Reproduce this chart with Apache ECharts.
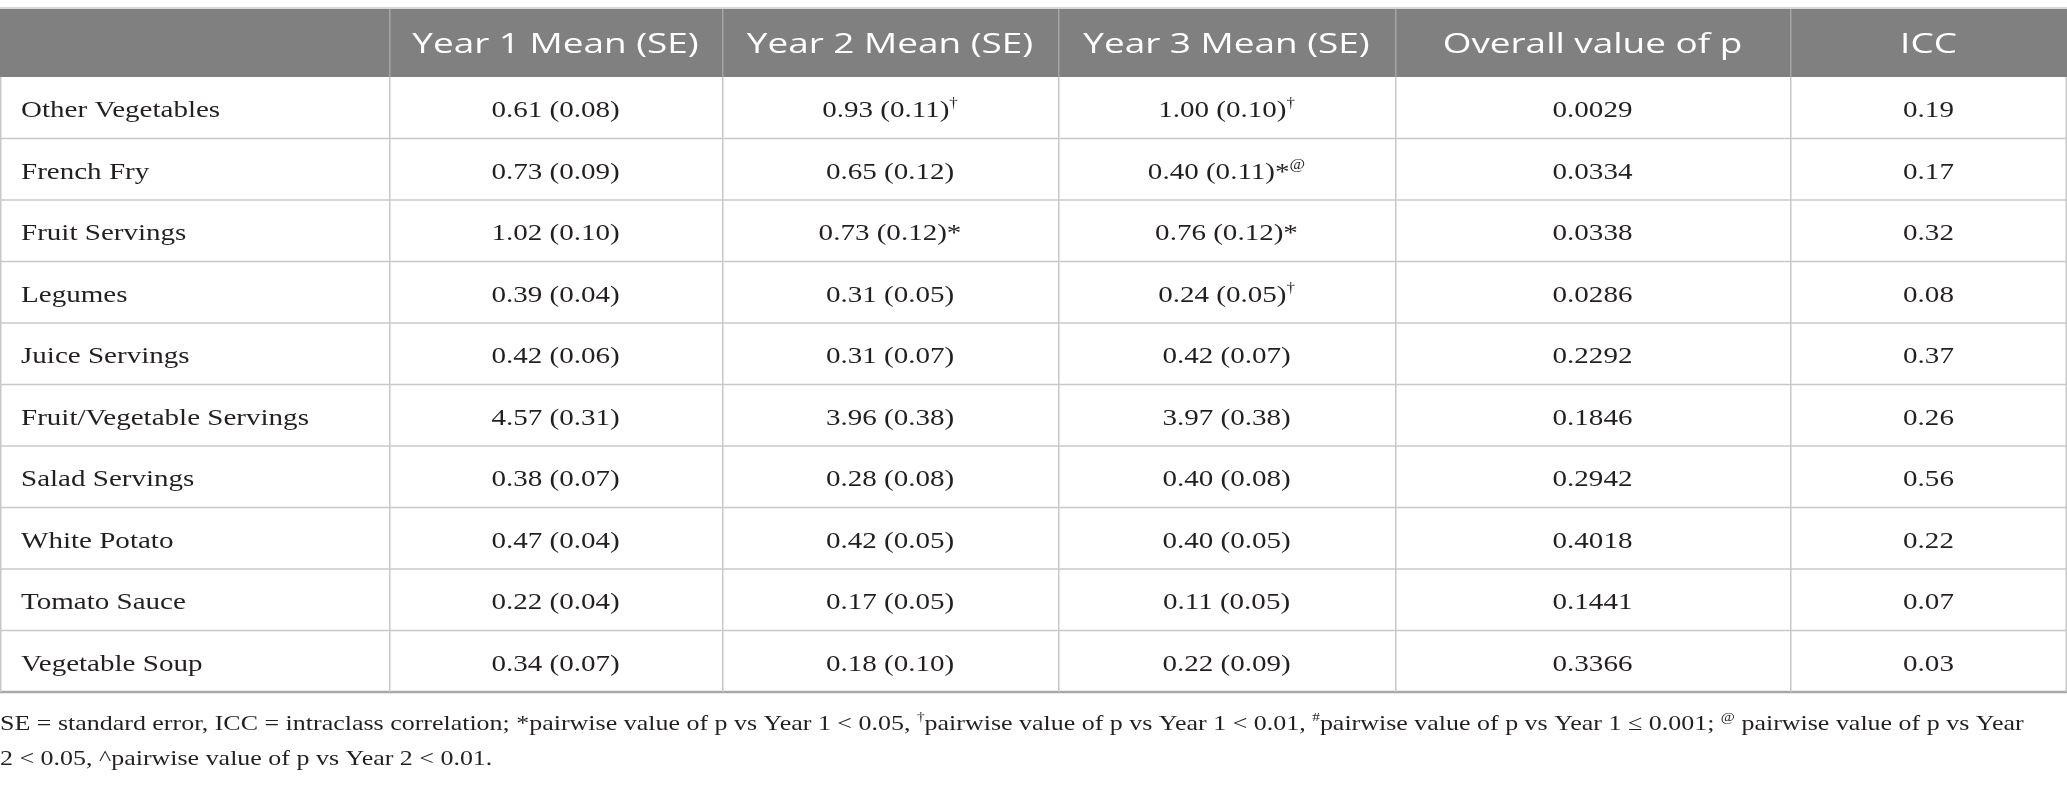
<!DOCTYPE html>
<html>
<head>
<meta charset="utf-8">
<script src="https://cdn.jsdelivr.net/npm/echarts@6.0.0/dist/echarts.min.js"></script>
<style>
  html, body { margin: 0; padding: 0; background: #fff; }
  #main { width: 2067px; height: 786px; }
</style>
</head>
<body>
<div id="main"></div>
<script>
// table data
var colHeaders = ['', 'Year 1 Mean (SE)', 'Year 2 Mean (SE)', 'Year 3 Mean (SE)', 'Overall value of p', 'ICC'];
var rowLabels = ['Other Vegetables', 'French Fry', 'Fruit Servings', 'Legumes', 'Juice Servings',
  'Fruit/Vegetable Servings', 'Salad Servings', 'White Potato', 'Tomato Sauce', 'Vegetable Soup'];
var year1Mean = [0.61, 0.73, 1.02, 0.39, 0.42, 4.57, 0.38, 0.47, 0.22, 0.34];
var year1SE = [0.08, 0.09, 0.10, 0.04, 0.06, 0.31, 0.07, 0.04, 0.04, 0.07];
var year2Mean = [0.93, 0.65, 0.73, 0.31, 0.31, 3.96, 0.28, 0.42, 0.17, 0.18];
var year2SE = [0.11, 0.12, 0.12, 0.05, 0.07, 0.38, 0.08, 0.05, 0.05, 0.10];
var year2Mark = ['†', '', '*', '', '', '', '', '', '', ''];
var year3Mean = [1.00, 0.40, 0.76, 0.24, 0.42, 3.97, 0.40, 0.40, 0.11, 0.22];
var year3SE = [0.10, 0.11, 0.12, 0.05, 0.07, 0.38, 0.08, 0.05, 0.05, 0.09];
var year3Mark = ['†', '*@', '*', '†', '', '', '', '', '', ''];
var pOverall = [0.0029, 0.0334, 0.0338, 0.0286, 0.2292, 0.1846, 0.2942, 0.4018, 0.1441, 0.3366];
var icc = [0.19, 0.17, 0.32, 0.08, 0.37, 0.26, 0.56, 0.22, 0.07, 0.03];

var footLine1 = '{n|SE = standard error, ICC = intraclass correlation; *pairwise value of p vs Year 1 < 0.05, }{s|†}' +
  '{n|pairwise value of p vs Year 1 < 0.01, }{s|#}{n|pairwise value of p vs Year 1 ≤ 0.001; }{s|@}{n| pairwise value of p vs Year}';
var footLine2 = '{n|2 < 0.05, ^pairwise value of p vs Year 2 < 0.01.}';

// layout
var colEdges = [0, 389, 722, 1058, 1395, 1790, 2067];
var headStretch = 1.318;   // the source table is wider than its type
var bodyStretch = 1.21;
var footStretch = 1.18;
var serif = '"Liberation Serif", "DejaVu Serif", serif';
var sans = '"Open Sans", "Noto Sans", sans-serif';
var ink = '#231f20';

var bodyRich = {
  v: { fontFamily: serif, fontSize: 24, fill: ink, lineHeight: 28 },
  s: { fontFamily: serif, fontSize: 14, fill: ink, lineHeight: 16, verticalAlign: 'top' }
};

function marks(m) {
  var out = '';
  for (var i = 0; i < m.length; i++) {
    out += m[i] === '*' ? '{v|*}' : '{s|' + m[i] + '}';
  }
  return out;
}

function meanSE(mean, se) {
  return mean.toFixed(2) + ' (' + se.toFixed(2) + ')';
}

function cellText(c, r) {
  if (c === 0) return '{v|' + rowLabels[r] + '}';
  if (c === 1) return '{v|' + meanSE(year1Mean[r], year1SE[r]) + '}';
  if (c === 2) return '{v|' + meanSE(year2Mean[r], year2SE[r]) + '}' + marks(year2Mark[r]);
  if (c === 3) return '{v|' + meanSE(year3Mean[r], year3SE[r]) + '}' + marks(year3Mark[r]);
  if (c === 4) return '{v|' + pOverall[r].toFixed(4) + '}';
  return '{v|' + icc[r].toFixed(2) + '}';
}

var headerData = colHeaders.map(function (h, i) { return [i, 0]; });
var bodyData = [];
rowLabels.forEach(function (name, r) {
  for (var c = 0; c < colHeaders.length; c++) bodyData.push([c, r]);
});

function renderHeader(params, api) {
  var c = api.value(0);
  var left = api.coord([colEdges[c], 0])[0];
  var right = api.coord([colEdges[c + 1], 0])[0];
  var cy = api.coord([0, 0])[1];
  var h = api.size([0, 1])[1];
  var top = cy - h / 2;
  var children = [
    { type: 'rect', shape: { x: left, y: top + 1, width: right - left, height: h - 1 }, style: { fill: '#808080' } },
    { type: 'line', shape: { x1: left, y1: top, x2: right, y2: top }, style: { stroke: '#c8c8c8', lineWidth: 1.5 } },
    {
      type: 'text', x: (left + right) / 2, y: cy + 3, scaleX: headStretch,
      style: { text: colHeaders[c], x: 0, y: 0, align: 'center', verticalAlign: 'middle',
        fontFamily: sans, fontSize: 28, fill: '#ffffff' }
    }
  ];
  if (c > 0) {
    children.push({ type: 'line', shape: { x1: left + 0.75, y1: top + 1, x2: left + 0.75, y2: top + h },
      style: { stroke: '#a4a4a4', lineWidth: 1.5 } });
  }
  return { type: 'group', children: children };
}

function renderBody(params, api) {
  var c = api.value(0), r = api.value(1);
  var left = api.coord([colEdges[c], r])[0];
  var right = api.coord([colEdges[c + 1], r])[0];
  var cy = api.coord([0, r])[1];
  var h = api.size([0, 1])[1];
  var top = cy - h / 2, bottom = cy + h / 2;
  var last = r === rowLabels.length - 1;
  var children = [
    { type: 'line', shape: { x1: left, y1: bottom, x2: right, y2: bottom },
      style: { stroke: last ? '#a8a8a8' : '#c8c8c8', lineWidth: last ? 2.5 : 1.5 } },
    { type: 'line', shape: { x1: left + 0.75, y1: top, x2: left + 0.75, y2: bottom },
      style: { stroke: '#c8c8c8', lineWidth: 1.5 } }
  ];
  if (c === colHeaders.length - 1) {
    children.push({ type: 'line', shape: { x1: right - 0.75, y1: top, x2: right - 0.75, y2: bottom },
      style: { stroke: '#c8c8c8', lineWidth: 1.5 } });
  }
  children.push({
    type: 'text', x: c === 0 ? left + 21 : (left + right) / 2, y: cy + 3, scaleX: bodyStretch,
    style: { text: cellText(c, r), x: 0, y: 0, align: c === 0 ? 'left' : 'center',
      verticalAlign: 'middle', rich: bodyRich }
  });
  return { type: 'group', children: children };
}

var chart = echarts.init(document.getElementById('main'), null, { renderer: 'canvas' });

var footRich = {
  n: { fontFamily: serif, fontSize: 22, fill: ink, lineHeight: 26 },
  s: { fontFamily: serif, fontSize: 13, fill: ink, lineHeight: 14, verticalAlign: 'top' }
};

chart.setOption({
  backgroundColor: '#ffffff',
  animation: false,
  grid: [
    { left: 0, right: 0, top: 8, height: 69 },
    { left: 0, right: 0, top: 77, height: 615 }
  ],
  xAxis: [
    { gridIndex: 0, type: 'value', min: 0, max: 2067, show: false },
    { gridIndex: 1, type: 'value', min: 0, max: 2067, show: false }
  ],
  yAxis: [
    { gridIndex: 0, type: 'category', data: ['header'], show: false },
    { gridIndex: 1, type: 'category', data: rowLabels, inverse: true, show: false }
  ],
  series: [
    {
      type: 'custom', xAxisIndex: 0, yAxisIndex: 0, clip: false, silent: true,
      encode: { x: 0, y: 1 }, data: headerData, renderItem: renderHeader
    },
    {
      type: 'custom', xAxisIndex: 1, yAxisIndex: 1, clip: false, silent: true,
      encode: { x: 0, y: 1 }, data: bodyData, renderItem: renderBody
    }
  ],
  graphic: [
    { type: 'text', x: 0, y: 724, scaleX: footStretch, silent: true,
      style: { text: footLine1, x: 0, y: 0, verticalAlign: 'middle', rich: footRich } },
    { type: 'text', x: 0, y: 759, scaleX: footStretch, silent: true,
      style: { text: footLine2, x: 0, y: 0, verticalAlign: 'middle', rich: footRich } }
  ]
});
</script>
</body>
</html>
